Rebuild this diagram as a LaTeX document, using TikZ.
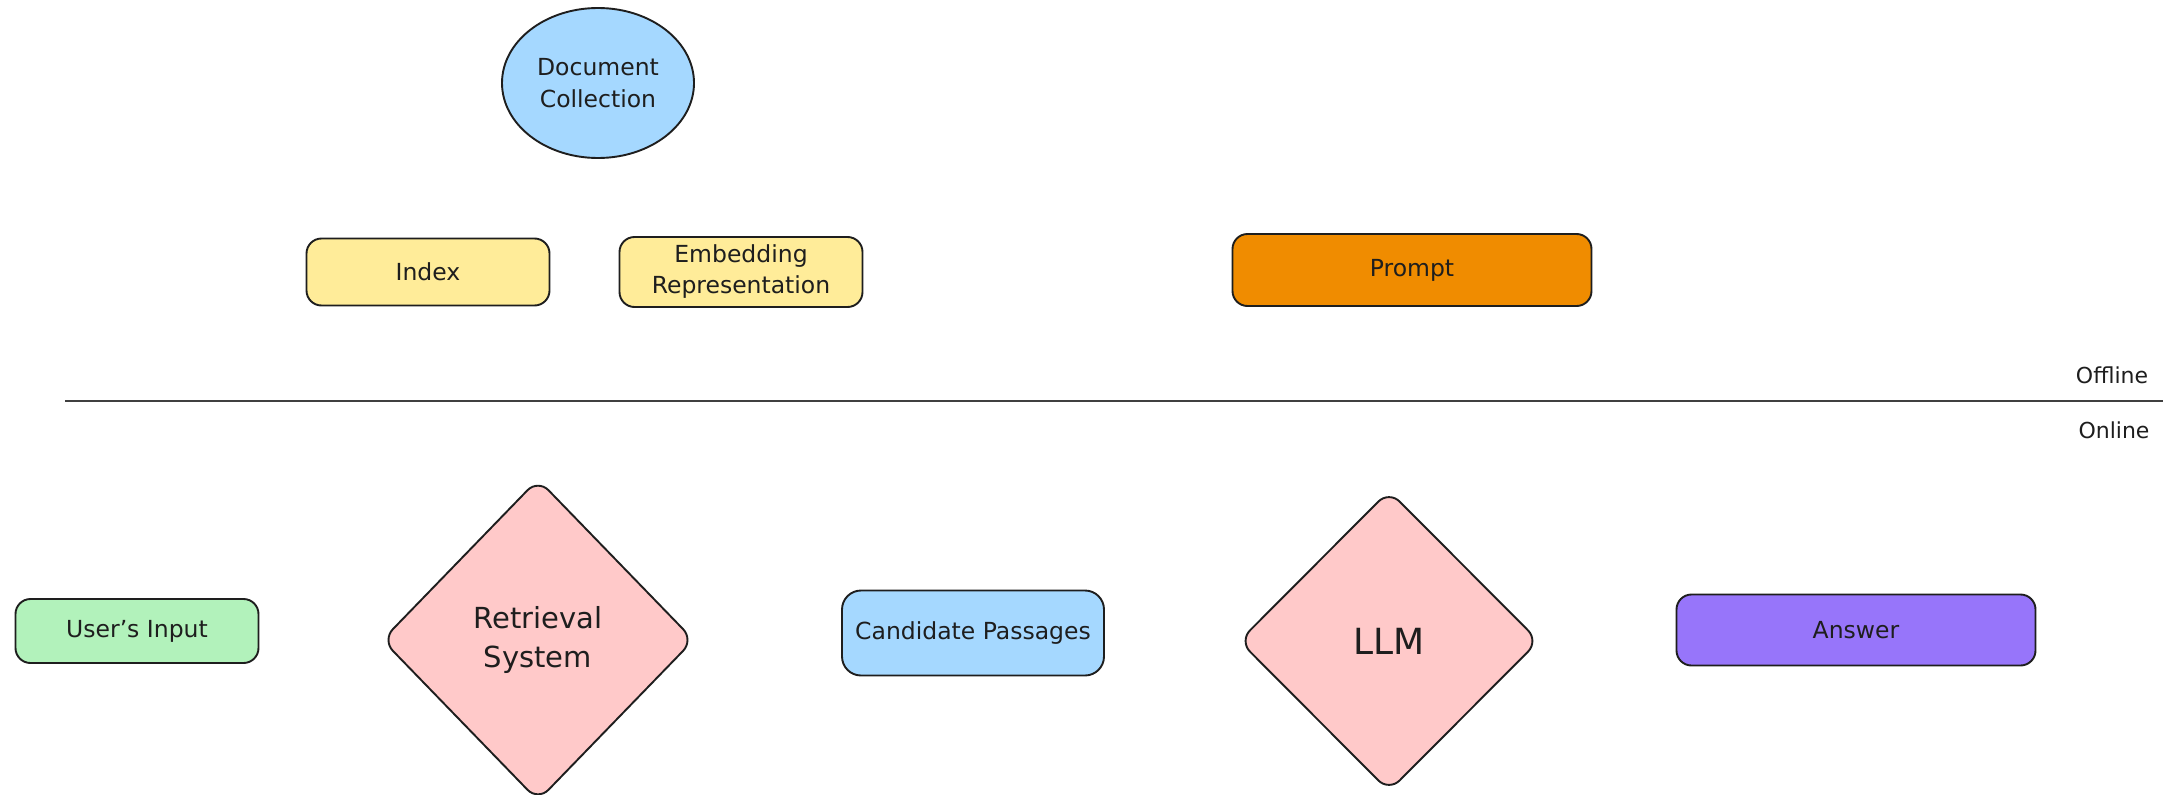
\documentclass[tikz,border=0pt]{standalone}
\usepackage{fontspec}
\setmainfont{DejaVu Sans}
\usetikzlibrary{shapes.geometric}

\definecolor{ink}{HTML}{1E1E1E}
\definecolor{skyfill}{HTML}{A5D8FF}
\definecolor{sandfill}{HTML}{FFEC99}
\definecolor{orangefill}{HTML}{F08C00}
\definecolor{mintfill}{HTML}{B2F2BB}
\definecolor{rosefill}{HTML}{FFC9C9}
\definecolor{violetfill}{HTML}{9775FA}

\begin{document}
\begin{tikzpicture}[x=1pt,y=-1pt,
  every node/.style={text=ink},
  box/.style={draw=ink, line width=1.9pt, rounded corners=15pt, inner sep=0pt,
    align=center, font=\fontsize{23.5}{31}\selectfont},
  decision/.style={diamond, draw=ink, line width=1.9pt, rounded corners=15pt,
    inner sep=0pt, align=center, fill=rosefill},
  sidelabel/.style={font=\fontsize{22}{26}\selectfont, inner sep=0pt}
]
\useasboundingbox (0,0) rectangle (2174,795);
\fill[white] (0,0) rectangle (2174,795);

% offline stage
\node[ellipse, draw=ink, line width=1.9pt, fill=skyfill, inner sep=0pt,
  minimum width=192pt, minimum height=150pt, align=center,
  font=\fontsize{23.5}{32}\selectfont] (docs) at (598,83) {Document\\Collection};

\node[box, fill=sandfill, minimum width=243pt, minimum height=67pt] (index) at (428,272) {Index};
\node[box, fill=sandfill, minimum width=243pt, minimum height=70pt] (embed) at (741,272) {Embedding\\Representation};
\node[box, fill=orangefill, minimum width=359pt, minimum height=72pt] (prompt) at (1412,270) {Prompt};

% stage separator
\coordinate (sepL) at (65,401);
\coordinate (sepR) at (2163,401);
\draw[ink!85, line width=2pt] (sepL) -- (sepR);
\node[sidelabel] (offline) at (2112,375) {Offline};
\node[sidelabel] (online) at (2114,430) {Online};

% online stage
\node[box, fill=mintfill, minimum width=243pt, minimum height=64pt] (input) at (137,631) {User's Input};
\node[decision, minimum width=312pt, minimum height=322pt,
  font=\fontsize{29}{39}\selectfont] (retrieval) at (538,640) {Retrieval\\System};
\node[box, fill=skyfill, minimum width=262pt, minimum height=85pt, rounded corners=19pt] (cands) at (973,633) {Candidate Passages};
\node[decision, minimum width=300pt, minimum height=301pt,
  font=\fontsize{36}{42}\selectfont] (llm) at (1389,641) {LLM};
\node[box, fill=violetfill, minimum width=359pt, minimum height=71pt] (answer) at (1856,630) {Answer};
\end{tikzpicture}
\end{document}
